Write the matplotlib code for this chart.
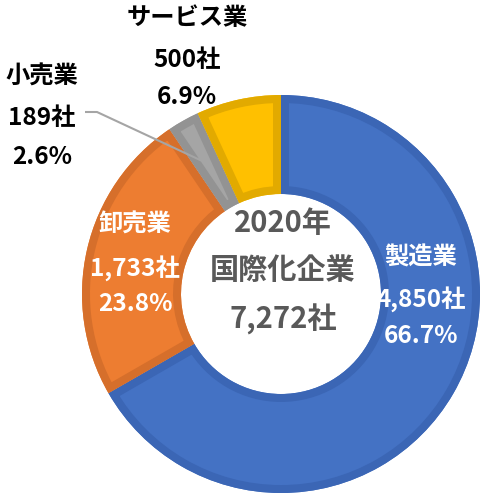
import numpy as np
import matplotlib
matplotlib.use("Agg")
import matplotlib.pyplot as plt
from matplotlib.patches import Wedge

plt.rcParams['font.family'] = ['Noto Sans CJK JP', 'DejaVu Sans']

# data
categories = ['製造業', '卸売業', '小売業', 'サービス業']
counts = [4850, 1733, 189, 500]
count_labels = ['4,850社', '1,733社', '189社', '500社']
pct_labels = ['66.7%', '23.8%', '2.6%', '6.9%']
center_lines = ['2020年', '国際化企業', '7,272社']

colors = ['#4472C4', '#ED7D31', '#A5A5A5', '#FFC000']
edges = ['#3B66B5', '#D66F2B', '#939393', '#E2AA00']

W, H = 486, 499
fig = plt.figure(figsize=(W / 100, H / 100), dpi=100)
ax = fig.add_axes([0, 0, 1, 1])


def Y(y):
    # image y (down) -> data y (up)
    return H - y


cx, cy = 281, Y(294)
R = 199
wedges, _ = ax.pie(counts, colors=colors, startangle=90, counterclock=False,
                   radius=R, center=(cx, cy),
                   wedgeprops=dict(width=R - 100, linewidth=0))
# darker inner border: stroke clipped to the wedge itself
for w, ec in zip(wedges, edges):
    b = Wedge(w.center, w.r, w.theta1, w.theta2, width=w.width,
              facecolor='none', edgecolor=ec, linewidth=11.5)
    ax.add_patch(b)
    b.set_clip_path(w.get_path(), w.get_transform())

ax.set_xlim(0, W)
ax.set_ylim(0, H)
ax.set_aspect('equal')
ax.axis('off')

# labels (inside wedges white, outside black)
label_pos = [(421, [258, 299, 336]), (135, [225, 268, 304]),
             (42, [77, 118, 157]), (187, [18, 60, 97])]
label_col = ['white', 'white', 'black', 'black']
for i, (x, ys) in enumerate(label_pos):
    for txt, y in zip([categories[i], count_labels[i], pct_labels[i]], ys):
        ax.text(x, Y(y), txt, ha='center', va='center', fontsize=17.5,
                fontweight='bold', color=label_col[i])

# leader line for 小売業
frac = np.cumsum([0] + counts) / sum(counts)
mid = 90 - 360 * (frac[2] + frac[3]) / 2
px = cx + 150 * np.cos(np.radians(mid))
py = cy + 150 * np.sin(np.radians(mid))
ax.plot([85, 97, px], [Y(112), Y(112), py], color='#A5A5A5', lw=1.5,
        solid_capstyle='butt')

# center text
for txt, y in zip(center_lines, [223, 270, 319]):
    ax.text(283, Y(y), txt, ha='center', va='center', fontsize=21,
            fontweight='bold', color='#595959')

fig.savefig('out.png', dpi=100)
